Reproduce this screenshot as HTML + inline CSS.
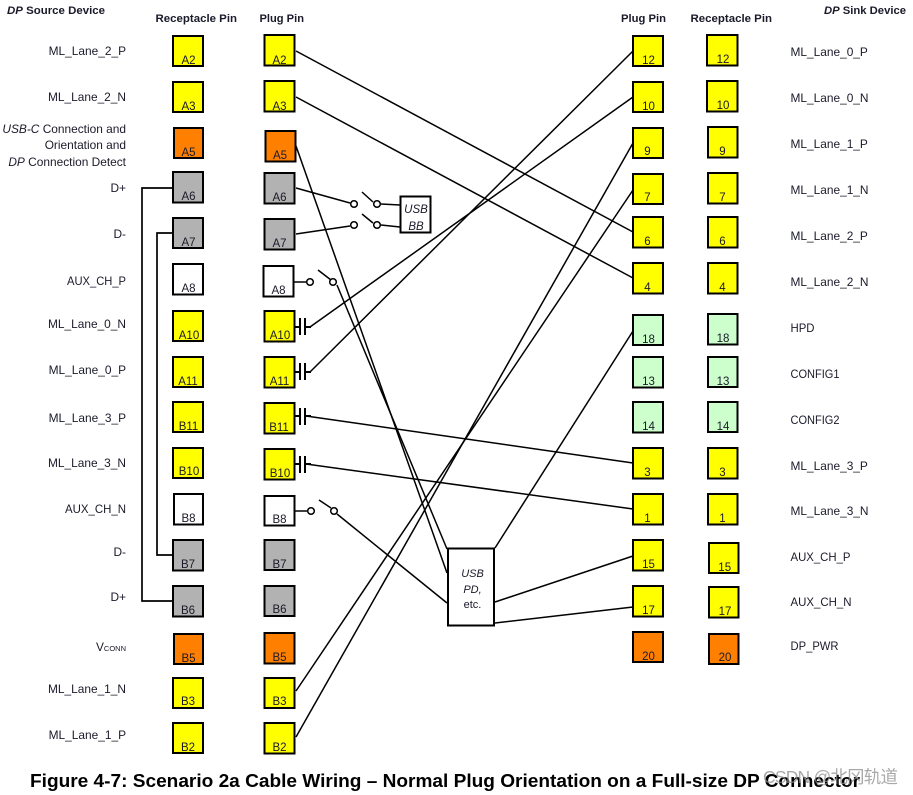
<!DOCTYPE html>
<html><head><meta charset="utf-8"><style>
html,body{margin:0;padding:0;background:#fff;width:913px;height:795px;overflow:hidden}
svg{display:block}
text{font-family:"Liberation Sans","Noto Sans CJK SC",sans-serif;font-size:11.9px;fill:#1a1a2a}
.c text{text-anchor:middle;font-size:11.5px}
.l text{text-anchor:end}
.b rect{stroke:#000;stroke-width:2}
.y rect{fill:#ffff00}.o rect{fill:#ff8000}.g rect{fill:#b2b2b2}.w rect{fill:#fff}.n rect{fill:#ccffcc}
.h{font-weight:bold;font-size:11.3px}
.wire{stroke:#000;stroke-width:1.5;fill:none}
.bus{stroke:#000;stroke-width:1.7;fill:none}
.cap{stroke:#000;stroke-width:2;fill:none}
</style></head><body>
<svg width="913" height="795" viewBox="0 0 913 795" xmlns="http://www.w3.org/2000/svg">
<!-- wires -->
<g class="wire">
<path d="M296 51L633 232"/><path d="M296 97L633 278"/>
<path d="M296 146L447 573"/><path d="M337 285L447 549"/><path d="M337 514L447 603"/>
<path d="M296 188L350 203"/><path d="M296 234L350 226"/>
<path d="M362 192L373 202"/><path d="M362 214L373 223"/>
<path d="M381 204L400 205"/><path d="M381 225L400 227"/>
<path d="M294 282L306 282"/><path d="M295 511L307 511"/>
<path d="M318 270L331 280"/><path d="M319 500L331 508"/>
<path d="M310 327L633 97"/><path d="M310 372L633 51"/>
<path d="M306 416L633 463"/><path d="M306 464L633 509"/>
<path d="M296 737L633 143"/><path d="M296 691L633 190"/>
<path d="M495 548L633 331"/><path d="M495 602L633 556"/><path d="M495 623L633 607"/>
</g>
<g class="bus">
<path d="M173 188H142V601H173"/><path d="M173 233H157V555H173"/>
</g>
<g class="cap">
<path d="M295 327H300M300 318V335M305 318V335M305 327H311"/>
<path d="M295 372H300M300 363V380M305 363V380M305 372H311"/>
<path d="M295 416H300M300 408V425M305 408V425M305 416H311"/>
<path d="M295 464H300M300 456V473M305 456V473M305 464H311"/>
</g>
<g fill="#fff" stroke="#000" stroke-width="1.5">
<circle cx="354" cy="204" r="3.3"/><circle cx="377" cy="204" r="3.3"/>
<circle cx="354" cy="225" r="3.3"/><circle cx="377" cy="225" r="3.3"/>
<circle cx="310" cy="282" r="3.3"/><circle cx="333" cy="282" r="3.3"/>
<circle cx="311" cy="511" r="3.3"/><circle cx="334" cy="511" r="3.3"/>
</g>
<!-- boxes -->
<g class="b y">
<rect x="173" y="36" width="30" height="30"/><rect x="173" y="82" width="30" height="30"/>
<rect x="173" y="311" width="30" height="30"/><rect x="173" y="357" width="30" height="30"/>
<rect x="173" y="402" width="30" height="30"/><rect x="173" y="448" width="30" height="30"/>
<rect x="173" y="678" width="30" height="30"/><rect x="173" y="723" width="30" height="30"/>
<rect x="264.500" y="35" width="30" height="30.500"/><rect x="264.500" y="81" width="30" height="30.500"/>
<rect x="264.500" y="311" width="30" height="30.500"/><rect x="264.500" y="357" width="30" height="30.500"/>
<rect x="264.500" y="403" width="30" height="30.500"/><rect x="264.500" y="449" width="30" height="30.500"/>
<rect x="264.500" y="678" width="30" height="30"/><rect x="264.500" y="723" width="30" height="30.500"/>
<rect x="633" y="36" width="30" height="30"/><rect x="633" y="82" width="30" height="30"/>
<rect x="633" y="128" width="30" height="30"/><rect x="633" y="174" width="30" height="30"/>
<rect x="633" y="217" width="30" height="30.500"/><rect x="633" y="263" width="30" height="30.500"/>
<rect x="633" y="448" width="30" height="30.500"/><rect x="633" y="494" width="30" height="30.500"/>
<rect x="633" y="540" width="30" height="30.500"/><rect x="633" y="586" width="30" height="30.500"/>
<rect x="707" y="35" width="30.500" height="30.500"/><rect x="707" y="81" width="30.500" height="30.500"/>
<rect x="708" y="127" width="29.500" height="30.500"/><rect x="708" y="173" width="29.500" height="30.500"/>
<rect x="708" y="217" width="29.500" height="30.500"/><rect x="708" y="263" width="29.500" height="30.500"/>
<rect x="708" y="448" width="29.500" height="30.500"/><rect x="708" y="494" width="29.500" height="30.500"/>
<rect x="709" y="543" width="29.500" height="30"/><rect x="709" y="587" width="29.500" height="30.500"/>
</g>
<g class="b o">
<rect x="174" y="128" width="29" height="30"/><rect x="265.500" y="131" width="30" height="30.500"/>
<rect x="174" y="634" width="29" height="30"/><rect x="264.500" y="633" width="30" height="30.500"/>
<rect x="633" y="632" width="30" height="30"/><rect x="709" y="634" width="29.500" height="30"/>
</g>
<g class="b g">
<rect x="173" y="172" width="30" height="30.500"/><rect x="173" y="218" width="30" height="30"/>
<rect x="173" y="540" width="30" height="30.500"/><rect x="173" y="586" width="30" height="30.500"/>
<rect x="264.500" y="173" width="30" height="30.500"/><rect x="264.500" y="219" width="30" height="30.500"/>
<rect x="264.500" y="540" width="30" height="30"/><rect x="264.500" y="586" width="30" height="30"/>
</g>
<g class="b w">
<rect x="173" y="264" width="30" height="30.500"/><rect x="174" y="494" width="29" height="30.500"/>
<rect x="263.500" y="266" width="30" height="30.500"/><rect x="264.500" y="496" width="30" height="29.500"/>
<rect x="400.500" y="196.500" width="30" height="36"/>
<rect x="448" y="548.500" width="46" height="77"/>
</g>
<g class="b n">
<rect x="633" y="315" width="30" height="30"/><rect x="633" y="357" width="30" height="30.500"/><rect x="633" y="402" width="30" height="30.500"/>
<rect x="708" y="314" width="29.500" height="30.500"/><rect x="708" y="357" width="29.500" height="30"/><rect x="708" y="402" width="29.500" height="30"/>
</g>
<!-- pin labels -->
<g class="c">
<text x="188.500" y="64">A2</text><text x="188.500" y="110">A3</text><text x="188.500" y="156">A5</text><text x="188.500" y="200">A6</text><text x="188.500" y="246">A7</text><text x="188.500" y="292">A8</text><text x="189" y="339">A10</text><text x="188" y="385">A11</text><text x="188.500" y="430">B11</text><text x="189" y="475">B10</text><text x="188.500" y="522">B8</text><text x="188" y="568">B7</text><text x="188" y="614">B6</text><text x="188.500" y="662">B5</text><text x="188" y="705">B3</text><text x="188" y="751">B2</text>
<text x="279.500" y="64">A2</text><text x="279.500" y="110">A3</text><text x="280" y="159">A5</text><text x="279.500" y="201">A6</text><text x="279.500" y="247">A7</text><text x="278.500" y="294">A8</text><text x="280" y="339">A10</text><text x="279.500" y="385">A11</text><text x="279" y="431">B11</text><text x="280" y="477">B10</text><text x="279.500" y="523">B8</text><text x="279.500" y="568">B7</text><text x="279.500" y="613">B6</text><text x="279.500" y="661">B5</text><text x="279.500" y="705">B3</text><text x="279.500" y="751">B2</text>
<text x="648.500" y="64">12</text><text x="648.500" y="110">10</text><text x="647.500" y="155">9</text><text x="647.500" y="201">7</text><text x="647.500" y="245">6</text><text x="647.500" y="291">4</text><text x="648.500" y="343">18</text><text x="648.500" y="385">13</text><text x="648.500" y="430">14</text><text x="647.500" y="476">3</text><text x="647.500" y="522">1</text><text x="648.500" y="568">15</text><text x="648.500" y="614">17</text><text x="648.500" y="660">20</text>
<text x="723" y="63">12</text><text x="723" y="109">10</text><text x="722.500" y="155">9</text><text x="722.500" y="201">7</text><text x="722.500" y="245">6</text><text x="722.500" y="291">4</text><text x="723" y="342">18</text><text x="723" y="385">13</text><text x="723" y="430">14</text><text x="722.500" y="476">3</text><text x="722.500" y="522">1</text><text x="724.700" y="571">15</text><text x="725" y="615">17</text><text x="725" y="661">20</text>
<text x="416" y="213" font-style="italic">USB</text><text x="416" y="230" font-style="italic">BB</text>
<text x="472.500" y="577" style="font-size:11px;font-style:italic">USB</text><text x="472.500" y="593" style="font-size:11px;font-style:italic">PD,</text><text x="472.500" y="608" style="font-size:11px">etc.</text>
</g>
<!-- headers -->
<text class="h" x="7" y="14" textLength="98" lengthAdjust="spacingAndGlyphs"><tspan font-style="italic">DP</tspan> Source Device</text>
<text class="h" x="155.500" y="22" textLength="81.500" lengthAdjust="spacingAndGlyphs">Receptacle Pin</text>
<text class="h" x="259.500" y="22" textLength="44.500" lengthAdjust="spacingAndGlyphs">Plug Pin</text>
<text class="h" x="621" y="22" textLength="45" lengthAdjust="spacingAndGlyphs">Plug Pin</text>
<text class="h" x="690.500" y="22" textLength="81.500" lengthAdjust="spacingAndGlyphs">Receptacle Pin</text>
<text class="h" x="824" y="14" textLength="82" lengthAdjust="spacingAndGlyphs"><tspan font-style="italic">DP</tspan> Sink Device</text>
<!-- left labels -->
<g class="l">
<text x="126" y="55">ML_Lane_2_P</text><text x="126" y="101">ML_Lane_2_N</text>
<text x="126" y="133"><tspan font-style="italic">USB-C</tspan> Connection and</text><text x="126" y="149">Orientation and</text><text x="126" y="166"><tspan font-style="italic">DP</tspan> Connection Detect</text>
<text x="126" y="192">D+</text><text x="126" y="238">D-</text><text x="126" y="285" textLength="59" lengthAdjust="spacingAndGlyphs">AUX_CH_P</text>
<text x="126" y="328">ML_Lane_0_N</text><text x="126" y="374">ML_Lane_0_P</text><text x="126" y="422">ML_Lane_3_P</text><text x="126" y="467">ML_Lane_3_N</text>
<text x="126" y="513" textLength="61" lengthAdjust="spacingAndGlyphs">AUX_CH_N</text><text x="126" y="556">D-</text><text x="126" y="601">D+</text>
<text x="126" y="651">V<tspan style="font-size:7.500px">CONN</tspan></text>
<text x="126" y="693">ML_Lane_1_N</text><text x="126" y="739">ML_Lane_1_P</text>
</g>
<!-- right labels -->
<g>
<text x="790.500" y="56">ML_Lane_0_P</text><text x="790.500" y="102">ML_Lane_0_N</text><text x="790.500" y="148">ML_Lane_1_P</text><text x="790.500" y="194">ML_Lane_1_N</text><text x="790.500" y="240">ML_Lane_2_P</text><text x="790.500" y="286">ML_Lane_2_N</text>
<text x="790.500" y="332" textLength="24" lengthAdjust="spacingAndGlyphs">HPD</text><text x="790.500" y="378" textLength="49" lengthAdjust="spacingAndGlyphs">CONFIG1</text><text x="790.500" y="424" textLength="49" lengthAdjust="spacingAndGlyphs">CONFIG2</text>
<text x="790.500" y="470">ML_Lane_3_P</text><text x="790.500" y="515">ML_Lane_3_N</text><text x="790.500" y="561" textLength="60" lengthAdjust="spacingAndGlyphs">AUX_CH_P</text><text x="790.500" y="606" textLength="61" lengthAdjust="spacingAndGlyphs">AUX_CH_N</text><text x="790.500" y="650" textLength="48" lengthAdjust="spacingAndGlyphs">DP_PWR</text>
</g>
<!-- caption -->
<text x="30" y="787" textLength="830" lengthAdjust="spacingAndGlyphs" style="font-size:18.400px;font-weight:bold;fill:#000">Figure 4-7: Scenario 2a Cable Wiring – Normal Plug Orientation on a Full-size DP Connector</text>
<text x="763" y="783" textLength="135" style="font-size:17.500px;fill:#8c8c8c;fill-opacity:.75">CSDN @北冈轨道</text>
</svg>
</body></html>
